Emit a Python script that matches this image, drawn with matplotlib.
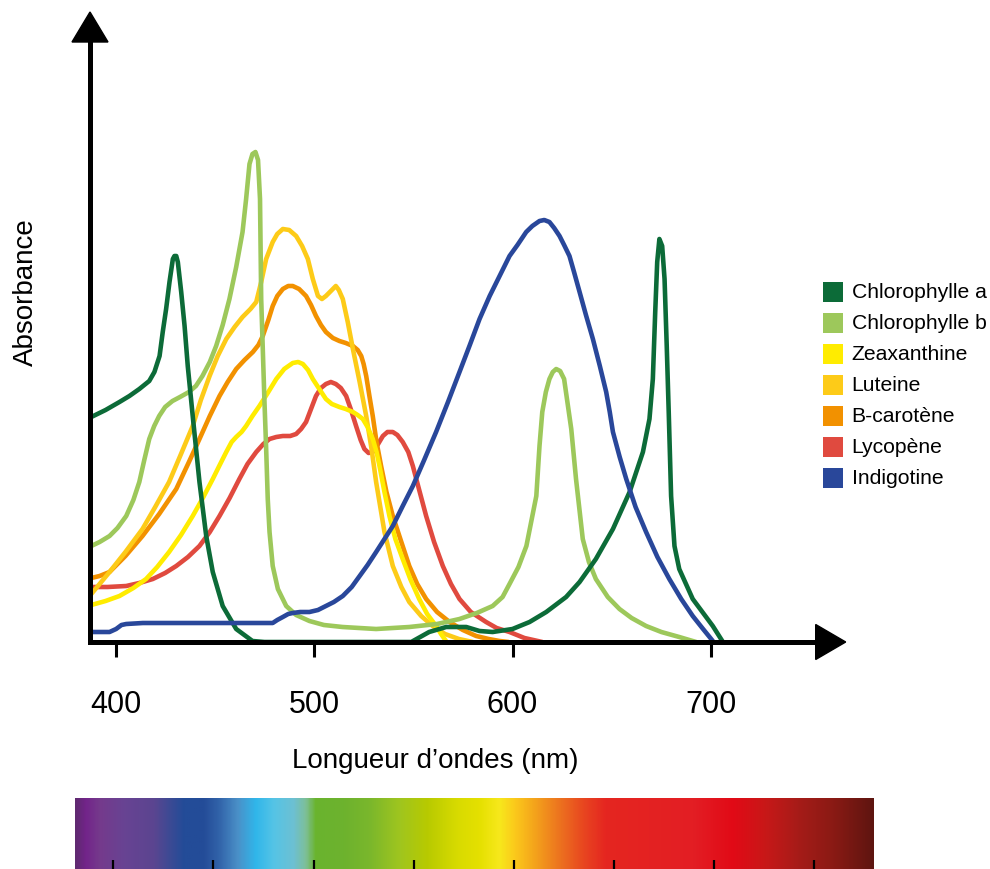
import numpy as np
import matplotlib
matplotlib.use("Agg")
import matplotlib.pyplot as plt
from matplotlib.colors import LinearSegmentedColormap
from matplotlib.patches import Polygon, Rectangle

plt.rcParams['font.family'] = ['Liberation Sans', 'DejaVu Sans']

# ---------------- data (wavelength nm, absorbance in arbitrary units) ----------------
chla_wl = [387.8, 395, 402, 407, 412, 417, 419.6, 422.2, 423.8, 425.5, 427.2, 428.9, 429.7, 430.6, 431.4,
           433.1, 434.8, 436.4, 438.9, 442.3, 445.7, 449, 454, 460.8, 469, 475,
           549, 558, 566.6, 576.7, 583.4, 590, 600, 608.6, 617, 627, 633.8, 642, 650.6, 659,
           665.7, 669, 670.7, 671.9, 672.9, 674, 675.4, 676.6, 677.7, 678.7, 679.9, 681.6,
           684, 690.8, 700.9, 706]
chla_abs = [2.25, 2.32, 2.40, 2.46, 2.53, 2.61, 2.70, 2.86, 3.10, 3.33, 3.60, 3.83, 3.86, 3.86, 3.80,
            3.50, 3.16, 2.76, 2.26, 1.60, 1.06, 0.70, 0.36, 0.13, 0.01, 0.0,
            0.0, 0.10, 0.15, 0.15, 0.11, 0.10, 0.13, 0.20, 0.30, 0.45, 0.60, 0.83, 1.13, 1.50,
            1.90, 2.23, 2.63, 3.30, 3.80, 4.03, 3.96, 3.63, 2.96, 2.30, 1.46, 0.96,
            0.73, 0.43, 0.16, 0.0]

chlb_wl = [387.8, 392, 397, 401, 405.4, 409, 412, 414.5, 417, 419.5, 422, 425, 428.7, 432.5, 437,
           440.5, 443.8, 447.5, 450.7, 454, 457.4, 460.8, 464, 465.8, 467.5,
           469, 470.5, 471.8, 472.8, 473.4, 474.2, 475, 475.9, 476.7, 477.6, 479.2, 481.8, 486,
           491, 497.7, 505, 514.4, 531.3, 548, 562, 573.3, 582, 590, 595, 598.5, 603, 607, 612,
           613.6, 615, 616.8, 618.6, 620.3, 622, 624, 626, 629.6, 632, 635.4, 638.5, 642, 648,
           653.9, 660, 667.3, 675, 684, 692.5]
chlb_abs = [0.96, 1.00, 1.06, 1.14, 1.26, 1.42, 1.60, 1.82, 2.03, 2.16, 2.26, 2.35, 2.41, 2.45, 2.50,
            2.56, 2.66, 2.80, 2.96, 3.17, 3.43, 3.75, 4.10, 4.43, 4.78,
            4.88, 4.90, 4.82, 4.43, 3.43, 2.93, 2.43, 1.93, 1.43, 1.10, 0.76, 0.53, 0.36,
            0.27, 0.21, 0.17, 0.15, 0.13, 0.15, 0.18, 0.23, 0.29, 0.36, 0.45, 0.58, 0.75, 0.96, 1.46,
            1.96, 2.30, 2.50, 2.63, 2.70, 2.73, 2.71, 2.63, 2.13, 1.63, 1.03, 0.80, 0.63, 0.45,
            0.33, 0.24, 0.16, 0.10, 0.05, 0.0]

zea_wl = [387.8, 395, 402, 409, 415.4, 421, 427, 433, 438.9, 444, 449, 452.5, 455.8, 458.5,
          460.8, 463.5, 465.8, 469, 472.5, 477, 481, 485, 489.3, 492, 494.4, 497, 499.4, 503,
          506, 509, 512.8, 516, 519.6, 522, 524.6, 527, 529.6, 531.5, 533, 535.5, 538, 541,
          544.7, 548.5, 553, 557, 561.5, 564, 566.5]
zea_abs = [0.37, 0.41, 0.46, 0.54, 0.63, 0.75, 0.90, 1.07, 1.26, 1.44, 1.63, 1.77, 1.90, 2.00,
           2.05, 2.10, 2.16, 2.26, 2.36, 2.50, 2.63, 2.73, 2.79, 2.80, 2.78, 2.72, 2.63, 2.52,
           2.43, 2.38, 2.35, 2.33, 2.30, 2.27, 2.23, 2.15, 2.03, 1.90, 1.76, 1.50, 1.26, 1.03,
           0.83, 0.63, 0.43, 0.28, 0.16, 0.08, 0.01]

lut_wl = [387.8, 397, 405, 413.6, 420, 427, 433, 438.9, 443, 447.4, 451.5, 455.8, 460, 464,
          468, 470.9, 473.4, 475.9, 479.2, 481.5, 484.3, 487.5, 491, 494, 496.9, 499.4, 502,
          504, 506, 509, 511, 512.5, 514.5, 517, 519.6, 523, 526.3, 529, 531.3, 535.5, 539.7,
          544, 548, 554, 559.8, 566, 573, 580]
lut_abs = [0.48, 0.70, 0.90, 1.13, 1.35, 1.60, 1.88, 2.16, 2.42, 2.66, 2.86, 3.03, 3.15, 3.25,
           3.33, 3.40, 3.60, 3.83, 4.00, 4.08, 4.13, 4.12, 4.06, 3.96, 3.83, 3.63, 3.46,
           3.43, 3.46, 3.52, 3.56, 3.52, 3.43, 3.20, 2.93, 2.60, 2.26, 1.93, 1.60, 1.10, 0.76,
           0.55, 0.40, 0.26, 0.16, 0.08, 0.03, 0.0]

bcar_wl = [387.8, 392, 397, 405, 413.6, 422, 430.6, 437, 442.3, 447.5, 452.4, 456.5, 460.8, 465,
           469.2, 472, 474.2, 477, 479.2, 481.5, 484.3, 487, 489.3, 492.5, 496, 498.5, 501,
           503.5, 506, 509.5, 512.8, 516, 519.6, 522, 523.8, 525, 526.3, 528, 529.6, 531.5,
           533.8, 536.5, 539.7, 544, 548, 552, 556.5, 562, 568.3, 575, 581.7, 588, 593.5, 598]
bcar_abs = [0.64, 0.66, 0.70, 0.86, 1.06, 1.28, 1.53, 1.80, 2.03, 2.26, 2.46, 2.60, 2.73, 2.82,
            2.90, 2.97, 3.06, 3.22, 3.36, 3.46, 3.53, 3.56, 3.56, 3.53, 3.46, 3.37, 3.26,
            3.17, 3.10, 3.04, 3.01, 2.99, 2.96, 2.92, 2.86, 2.78, 2.66, 2.45, 2.26, 2.00,
            1.76, 1.50, 1.26, 1.00, 0.76, 0.58, 0.43, 0.30, 0.20, 0.12, 0.06, 0.03, 0.01, 0.0]

lyc_wl = [387.8, 396, 405.4, 412, 418.8, 425, 430.6, 436.5, 442.3, 447.5, 452.4, 457.5, 462.4,
          466.5, 470.9, 474.5, 477.6, 481, 484.3, 488, 491, 493.5, 496, 498.5, 501, 503.5, 506,
          508.5, 511, 513.5, 516.2, 518.5, 521.2, 523.5, 525.4, 527.5, 529.6, 532, 534.7, 537,
          539.7, 542, 544.7, 547.5, 549.8, 553, 556.5, 560.5, 564.9, 569, 573.3, 579, 586.7,
          592, 598.5, 606, 615]
lyc_abs = [0.55, 0.55, 0.56, 0.59, 0.63, 0.69, 0.76, 0.85, 0.96, 1.10, 1.26, 1.44, 1.63,
           1.78, 1.90, 1.98, 2.03, 2.05, 2.06, 2.06, 2.08, 2.13, 2.20, 2.33, 2.46, 2.54, 2.58,
           2.60, 2.58, 2.54, 2.46, 2.33, 2.16, 2.02, 1.93, 1.89, 1.90, 1.97, 2.06, 2.10,
           2.10, 2.07, 2.00, 1.90, 1.76, 1.52, 1.26, 1.00, 0.76, 0.58, 0.43, 0.30, 0.20,
           0.14, 0.10, 0.04, 0.0]

ind_wl = [387.8, 397, 400.3, 403, 405.4, 413.8, 440, 460, 479.2, 481.5, 484.3, 487, 489.3, 493,
          497.7, 502, 506, 510, 514.5, 519, 523, 527, 531.3, 535.5, 539.7, 544.7, 549.8, 555.5,
          561.5, 567.5, 573.3, 578.5, 583.4, 588.5, 593.5, 598.5, 602.5, 606.9, 610, 613.6,
          616, 618.6, 621, 623.7, 626, 628.7, 631, 633.8, 637, 640.5, 644, 647.2, 649, 650.6,
          654, 657.3, 662, 667.3, 673, 679, 685, 690.8, 696, 700.9]
ind_abs = [0.10, 0.10, 0.13, 0.17, 0.18, 0.19, 0.19, 0.19, 0.19, 0.22, 0.25, 0.28, 0.29, 0.30,
           0.30, 0.32, 0.36, 0.40, 0.46, 0.55, 0.66, 0.77, 0.90, 1.03, 1.16, 1.36, 1.56, 1.82,
           2.10, 2.40, 2.70, 2.97, 3.23, 3.46, 3.66, 3.86, 3.97, 4.10, 4.16, 4.21,
           4.22, 4.20, 4.14, 4.06, 3.97, 3.86, 3.70, 3.50, 3.27, 3.03, 2.76, 2.50, 2.30, 2.10,
           1.85, 1.63, 1.35, 1.10, 0.85, 0.63, 0.43, 0.26, 0.13, 0.01]

series_names = ["Chlorophylle a", "Chlorophylle b", "Zeaxanthine", "Luteine",
                "B-carotène", "Lycopène", "Indigotine"]
series_colors = ["#0c6b38", "#9dc85b", "#ffec00", "#fdcb18", "#f29100", "#e04a3f", "#29479a"]

xticks = [400, 500, 600, 700]
xtick_labels = ["400", "500", "600", "700"]

spec_ticks = [400, 450, 500, 550, 600, 650, 700, 750]
spec_stops_nm = [381, 386, 393, 405, 420, 428, 435, 445, 453, 462, 471, 480, 490, 496, 501,
                 515, 528, 543, 557, 572, 583, 593, 601, 612, 624, 635, 646, 690, 710, 726,
                 743, 760, 780]
spec_stops_col = ['#5f2a70', '#72248a', '#753a8c', '#684393', '#5b4590', '#3c4a94', '#234c98',
                  '#244c98', '#3264aa', '#4a90c8', '#30b6ea', '#55c4e6', '#6dc0d2', '#7dbf98',
                  '#6ab42e', '#6db22e', '#7ab72c', '#9fc51f', '#b8ca00', '#d8db00', '#e5e000',
                  '#f7e81c', '#fbc81b', '#f39e1c', '#ec6f1f', '#e84620', '#e52620', '#e31e24',
                  '#e10a16', '#c81818', '#a51c18', '#8a1a14', '#5e1510']

# ---------------- figure ----------------
W, H = 990, 870
fig = plt.figure(figsize=(W / 100, H / 100), dpi=100)

def fx(px):
    return px / W

def fy(py):
    return 1 - py / H

# main axes: left edge x=90px, bottom y=643px, right x=845.7px (arrow tip), top y=13px
ax_l, ax_r, ax_b, ax_t = 90, 845.7, 643, 13
ax = fig.add_axes([fx(ax_l), fy(ax_b), fx(ax_r - ax_l), (ax_b - ax_t) / H])
px_per_nm = 1.985
x0 = 400 + (ax_l - 115.5) / px_per_nm
x1 = 400 + (ax_r - 115.5) / px_per_nm
ymax = (ax_b - ax_t) / 100.0
ax.set_xlim(x0, x1)
ax.set_ylim(0, ymax)
ax.patch.set_alpha(0)

all_wl = [chla_wl, chlb_wl, zea_wl, lut_wl, bcar_wl, lyc_wl, ind_wl]
all_abs = [chla_abs, chlb_abs, zea_abs, lut_abs, bcar_abs, lyc_abs, ind_abs]
draw_order = [5, 4, 3, 2, 1, 0, 6]
for n, i in enumerate(draw_order):
    ax.plot(all_wl[i], all_abs[i], color=series_colors[i], lw=3.3,
            solid_joinstyle='round', solid_capstyle='round', zorder=2 + n * 0.01)

for s in ['top', 'right']:
    ax.spines[s].set_visible(False)
arrow_len_px = 30
ax.spines['left'].set_linewidth(3.6)
ax.spines['bottom'].set_linewidth(3.6)
ax.spines['left'].set_bounds(0, ymax - (arrow_len_px - 3) / 100)
ax.spines['bottom'].set_bounds(x0, x1 - (arrow_len_px - 3) / px_per_nm)
for s in ['left', 'bottom']:
    ax.spines[s].set_capstyle('projecting')
    ax.spines[s].set_zorder(3)

# arrow heads
hw_y = 18 / px_per_nm
up = Polygon([[x0, ymax], [x0 - hw_y, ymax - arrow_len_px / 100], [x0 + hw_y, ymax - arrow_len_px / 100]],
             closed=True, color='black', clip_on=False, zorder=4)
ax.add_patch(up)
hw_x = 17.5 / 100
right = Polygon([[x1, 0], [x1 - arrow_len_px / px_per_nm, hw_x], [x1 - arrow_len_px / px_per_nm, -hw_x]],
                closed=True, color='black', clip_on=False, zorder=4)
ax.add_patch(right)

ax.set_yticks([])
ax.set_xticks(xticks)
ax.set_xticklabels(xtick_labels)
ax.tick_params(axis='x', direction='out', length=11, width=2.2, pad=23, labelsize=22,
               color='black', labelcolor='black')

# axis labels (placed in pixel positions)
fig.text(fx(435), fy(768.3), "Longueur d\u2019ondes (nm)", ha='center', va='baseline', fontsize=20)
fig.text(fx(33.3), fy(292.5), "Absorbance", ha='center', va='baseline', fontsize=20,
         rotation=90, rotation_mode='anchor')

# legend (manual)
leg_x, leg_y0, leg_dy, sq = 822.7, 292.7, 31, 20
for k, (name, col) in enumerate(zip(series_names, series_colors)):
    cy = leg_y0 + k * leg_dy
    fig.add_artist(Rectangle((fx(leg_x), fy(cy + sq / 2)), sq / W, sq / H,
                             transform=fig.transFigure, facecolor=col, edgecolor='none'))
    fig.text(fx(851.7), fy(cy), name, ha='left', va='center', fontsize=15.2)

# spectrum bar
bar_l, bar_r, bar_t = 75, 874, 799.3
bx = fig.add_axes([fx(bar_l), 0, fx(bar_r - bar_l), (H - bar_t) / H])
b_px_per_nm = 2.002
bx0 = 400 + (bar_l - 113.3) / b_px_per_nm
bx1 = 400 + (bar_r - 113.3) / b_px_per_nm
lo, hi = spec_stops_nm[0], spec_stops_nm[-1]
cmap = LinearSegmentedColormap.from_list(
    'spec', [((v - lo) / (hi - lo), c) for v, c in zip(spec_stops_nm, spec_stops_col)], N=1024)
grad = np.linspace(bx0, bx1, 1200)[None, :]
bx.imshow(grad, cmap=cmap, vmin=lo, vmax=hi, aspect='auto', extent=(bx0, bx1, 0, 1),
          interpolation='bilinear')
bx.set_xlim(bx0, bx1)
bx.set_ylim(0, 1)
for s in bx.spines.values():
    s.set_visible(False)
bx.set_yticks([])
bx.set_xticks(spec_ticks)
bx.tick_params(axis='x', direction='in', length=6.5, width=1.6, color='black',
               labelbottom=False)

fig.savefig("out.png", dpi=100)
